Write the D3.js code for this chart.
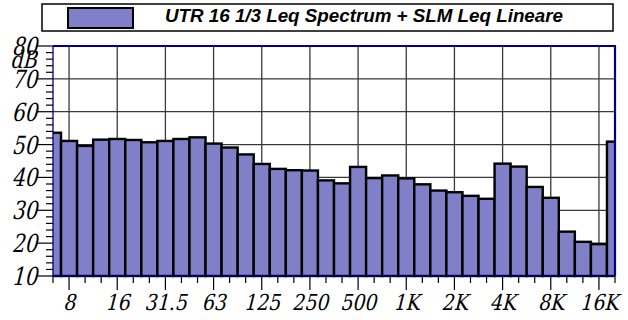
<!DOCTYPE html>
<html>
<head>
<meta charset="utf-8">
<script src="https://cdn.jsdelivr.net/npm/d3@7"></script>
<style>
  html, body { margin: 0; padding: 0; background: #fff; }
  svg { display: block; }
  .ser { font-family: "DejaVu Serif", serif; font-style: normal; }
</style>
</head>
<body>
<svg id="chart" width="628" height="320"></svg>
<script>
// 1/3-octave band centre frequencies, 6.3 Hz .. 20 kHz
const bands = ["6.3","8","10","12.5","16","20","25","31.5","40","50","63","80","100",
  "125","160","200","250","315","400","500","630","800","1K","1.25K","1.6K","2K",
  "2.5K","3.15K","4K","5K","6.3K","8K","10K","12.5K","16K","20K"];
// Leq per band, dB
const levels = [53.6,51.1,49.6,51.5,51.7,51.4,50.7,51.1,51.7,52.2,50.3,49.1,47.0,
  44.1,42.6,42.2,42.1,39.1,38.2,43.2,39.8,40.6,39.7,37.9,36.0,35.5,34.4,33.5,
  44.2,43.3,37.1,33.8,23.5,20.4,19.7,50.9];
// labelled bands on the frequency axis
const tickLabels = ["8","16","31.5","63","125","250","500","1K","2K","4K","8K","16K"];
const yTicks = [10,20,30,40,50,60,70,80];
const yMinor = d3.range(10, 81, 2);
const legendText = "UTR 16 1/3 Leq Spectrum + SLM Leq Lineare";

const svg = d3.select("#chart");
const L = 53, R = 615, T = 46, B = 276;
const navy = "#000080";

const x = d3.scaleLinear().domain([0, bands.length - 1]).range([L, R]);
const y = d3.scaleLinear().domain([10, 80]).range([B, T]);

// slanted, narrowed serif text for the axis labels
const slant = (px, py, sx) => `translate(${px},${py}) skewX(-14) scale(${sx},1)`;

// legend
const lg = svg.append("g");
lg.append("rect").attr("x", 42).attr("y", 4).attr("width", 571).attr("height", 27)
  .attr("fill", "#fff").attr("stroke", "#000").attr("stroke-width", 1.5);
lg.append("rect").attr("x", 68).attr("y", 8).attr("width", 65).attr("height", 20)
  .attr("fill", "#8080c8").attr("stroke", "#000").attr("stroke-width", 2);
lg.append("text").attr("x", 165).attr("y", 22)
  .attr("font-family", "'Liberation Sans', Arial, sans-serif")
  .attr("font-size", 18).attr("font-weight", "bold").attr("font-style", "italic")
  .attr("textLength", 398).attr("lengthAdjust", "spacingAndGlyphs")
  .text(legendText);

// grid
const grid = svg.append("g").attr("stroke", "#3a3a3a").attr("stroke-width", 1.3);
yTicks.filter(v => v > 10 && v < 80).forEach(v => {
  grid.append("line").attr("x1", L).attr("x2", R).attr("y1", y(v)).attr("y2", y(v));
});
tickLabels.forEach(t => {
  const i = bands.indexOf(t);
  grid.append("line").attr("x1", x(i)).attr("x2", x(i)).attr("y1", T).attr("y2", B);
});

// bars
svg.append("clipPath").attr("id", "plotClip")
  .append("rect").attr("x", L).attr("y", T - 5).attr("width", R - L).attr("height", B - T + 10);
const step = x(1) - x(0);
svg.append("g").attr("clip-path", "url(#plotClip)")
  .selectAll("rect").data(levels).join("rect")
  .attr("x", (d, i) => x(i) - step / 2)
  .attr("width", step)
  .attr("y", d => y(d))
  .attr("height", d => B - y(d))
  .attr("fill", "#8080c8")
  .attr("stroke", "#000")
  .attr("stroke-width", 2.4);

// frame
svg.append("line").attr("x1", L).attr("x2", R + 1).attr("y1", T).attr("y2", T)
  .attr("stroke", navy).attr("stroke-width", 2.2);
svg.append("line").attr("x1", R).attr("x2", R).attr("y1", T).attr("y2", B)
  .attr("stroke", navy).attr("stroke-width", 2.2);

// y axis
const yAxis = svg.append("g");
yAxis.append("line").attr("x1", L).attr("x2", L).attr("y1", T).attr("y2", B)
  .attr("stroke", navy).attr("stroke-width", 1.3);
yMinor.forEach(v => {
  const major = v % 10 === 0;
  yAxis.append("line").attr("x1", L - (major ? 16 : 7)).attr("x2", L)
    .attr("y1", y(v)).attr("y2", y(v)).attr("stroke", "#000").attr("stroke-width", 1.2);
});
yAxis.selectAll("text.yl").data(yTicks).join("text").attr("class", "yl ser")
  .attr("transform", d => slant(L - 16, y(d) + 9, 0.8))
  .attr("text-anchor", "end")
  .attr("font-size", 25)
  .text(d => d);
svg.append("text").attr("class", "ser")
  .attr("transform", slant(10, 68, 0.8))
  .attr("font-size", 24)
  .text("dB");

// x axis
const xAxis = svg.append("g");
xAxis.append("line").attr("x1", L).attr("x2", R).attr("y1", B).attr("y2", B)
  .attr("stroke", navy).attr("stroke-width", 1.3);
bands.forEach((b, i) => {
  const major = tickLabels.includes(b);
  xAxis.append("line").attr("x1", x(i)).attr("x2", x(i))
    .attr("y1", B).attr("y2", B + (major ? 14 : 7))
    .attr("stroke", "#000").attr("stroke-width", 1.2);
});
xAxis.selectAll("text.xl").data(tickLabels).join("text").attr("class", "xl ser")
  .attr("transform", d => slant(x(bands.indexOf(d)), 310, 0.86))
  .attr("text-anchor", "middle")
  .attr("font-size", 22)
  .text(d => d);
</script>
</body>
</html>
